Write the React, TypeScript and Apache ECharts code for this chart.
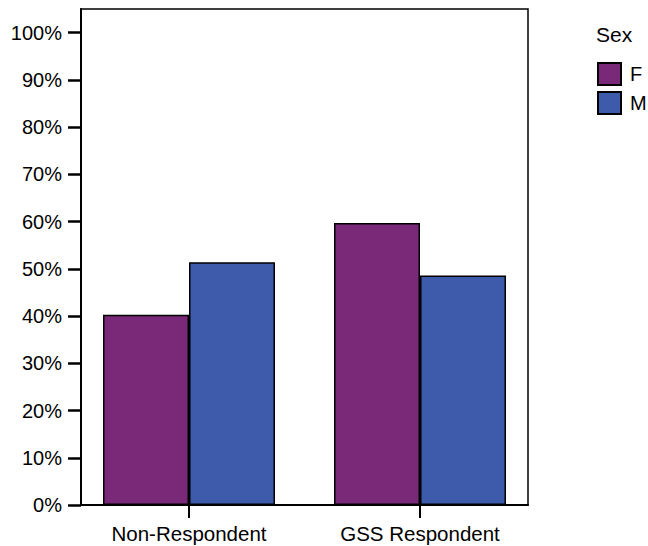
import React, { useEffect, useRef } from "react";
import * as echarts from "echarts";

const categories = ["Non-Respondent", "GSS Respondent"];
const categoryPositions = [0, 1];
const femaleValues = [40.3, 59.7];
const maleValues = [51.4, 48.6];
const percentTicks = [0, 10, 20, 30, 40, 50, 60, 70, 80, 90, 100];
const seriesNames = ["F", "M"];

const FONT = "Liberation Sans, Arial, sans-serif";

export default function App() {
  const ref = useRef<HTMLDivElement>(null);
  useEffect(() => {
    if (!ref.current) return;
    const chart = echarts.init(ref.current, undefined, { renderer: "svg" });
    chart.setOption({
      animation: false,
      backgroundColor: "#fff",
      textStyle: { fontFamily: FONT },
      title: {
        text: "Sex",
        left: 596,
        top: 24,
        padding: 0,
        textStyle: { fontFamily: FONT, fontSize: 21, fontWeight: "normal", color: "#000" },
      },
      legend: {
        data: seriesNames,
        orient: "vertical",
        left: 597,
        top: 62,
        itemWidth: 23,
        itemHeight: 22,
        itemGap: 5,
        icon: "rect",
        textStyle: { fontFamily: FONT, fontSize: 20, color: "#000", padding: [0, 0, 0, 4] },
        padding: 0,
      },
      grid: {
        left: 81,
        right: 120,
        top: 9,
        bottom: 41,
        show: true,
        borderColor: "#000",
        borderWidth: 1.5,
        backgroundColor: "transparent",
      },
      xAxis: {
        type: "value",
        min: -0.4675,
        max: 1.4675,
        splitLine: { show: false },
        axisLine: { show: true, onZero: false, lineStyle: { color: "#000", width: 2 } },
        axisTick: { show: true, length: 13, lineStyle: { color: "#000", width: 2 }, customValues: categoryPositions },
        axisLabel: {
          customValues: categoryPositions,
          formatter: (v: number) => categories[Math.round(v)] ?? "",
          fontFamily: FONT,
          fontSize: 20.5,
          color: "#000",
          margin: 18,
        },
      },
      yAxis: {
        type: "value",
        min: 0,
        max: 105,
        splitLine: { show: false },
        axisLine: { show: true, onZero: false, lineStyle: { color: "#000", width: 2 } },
        axisTick: { show: true, length: 13, lineStyle: { color: "#000", width: 2.5 }, customValues: percentTicks },
        axisLabel: {
          customValues: percentTicks,
          formatter: (v: number) => `${v}%`,
          fontFamily: FONT,
          fontSize: 20,
          color: "#000",
          margin: 19,
        },
      },
      series: [
        {
          name: seriesNames[0],
          type: "bar",
          barWidth: 86,
          barGap: "0%",
          data: categoryPositions.map((x, i) => [x, femaleValues[i]]),
          itemStyle: { color: "#7a2878", borderColor: "#000", borderWidth: 1.5 },
        },
        {
          name: seriesNames[1],
          type: "bar",
          barWidth: 86,
          barGap: "0%",
          data: categoryPositions.map((x, i) => [x, maleValues[i]]),
          itemStyle: { color: "#3d5aab", borderColor: "#000", borderWidth: 1.5 },
        },
      ],
    });
    return () => chart.dispose();
  }, []);
  return <div ref={ref} style={{ width: 648, height: 546, position: "absolute", left: 0, top: 0 }} />;
}
